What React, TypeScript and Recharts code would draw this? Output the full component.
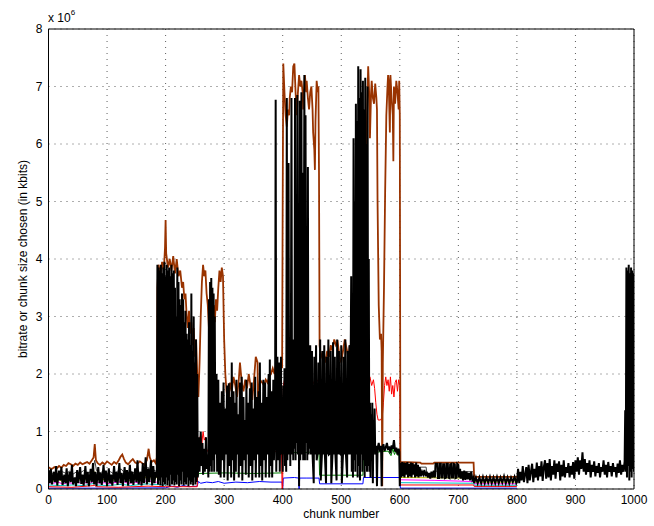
import { LineChart, Line, XAxis, YAxis, CartesianGrid } from 'recharts'

type Pt = [number, number | null]

const FONT = '"Liberation Sans", Arial, Helvetica, sans-serif'

const X_TICKS = [0, 100, 200, 300, 400, 500, 600, 700, 800, 900, 1000]
const Y_TICKS = [0, 1, 2, 3, 4, 5, 6, 7, 8]

// values in units of 10^6 kbits, keyed by chunk number
const grey: Pt[] = [
  [0, 0.3], [6, 0.26], [12, 0.29], [18, 0.25], [24, 0.3], [30, 0.27], [36, 0.31], [42, 0.26], [48, 0.3],
  [54, 0.28], [60, 0.32], [66, 0.27], [72, 0.3], [76, 0.34], [79, 0.5], [82, 0.32], [88, 0.28], [94, 0.31],
  [100, 0.27], [106, 0.3], [112, 0.26], [118, 0.31], [124, 0.35], [128, 0.3], [134, 0.27], [140, 0.31],
  [146, 0.28], [152, 0.3], [158, 0.26], [164, 0.31], [170, 0.38], [174, 0.3], [180, 0.33], [185, 0.3],
  [186, null],
  [601, 0.38], [645, 0.38], [646, 0.27], [660, 0.27], [661, 0.31], [726, 0.3], [727, 0.16], [800, 0.16],
]

const yellow: Pt[] = [
  [0, 0.16], [8, 0.14], [16, 0.17], [24, 0.13], [32, 0.16], [40, 0.14], [48, 0.18], [56, 0.15], [64, 0.17],
  [72, 0.16], [77, 0.2], [79, 0.3], [81, 0.18], [88, 0.15], [96, 0.17], [104, 0.14], [112, 0.16], [120, 0.18],
  [126, 0.22], [132, 0.16], [140, 0.14], [148, 0.17], [156, 0.15], [164, 0.18], [170, 0.26], [174, 0.2],
  [180, 0.17], [185, 0.2], [186, null],
  [601, 0.2], [726, 0.19], [727, 0.12], [800, 0.12],
]

const magenta: Pt[] = [
  [0, 0.11], [8, 0.1], [16, 0.12], [24, 0.09], [32, 0.11], [40, 0.1], [48, 0.12], [56, 0.1], [64, 0.11],
  [72, 0.1], [77, 0.14], [79, 0.24], [81, 0.12], [88, 0.1], [96, 0.11], [104, 0.09], [112, 0.11], [120, 0.12],
  [126, 0.15], [132, 0.11], [140, 0.1], [148, 0.12], [156, 0.1], [164, 0.12], [170, 0.18], [174, 0.13],
  [180, 0.11], [185, 0.12], [186, null],
  [601, 0.16], [660, 0.15], [726, 0.13], [727, 0.09], [800, 0.09],
]

const cyan: Pt[] = [
  [0, 0.07], [20, 0.06], [40, 0.07], [60, 0.06], [79, 0.1], [82, 0.07], [100, 0.06], [125, 0.08], [140, 0.06],
  [170, 0.09], [175, 0.08], [185, 0.08], [200, 0.07], [201, null],
  [601, 0.11], [726, 0.1], [727, 0.065], [800, 0.065],
]

const blue: Pt[] = [
  [0, 0.015], [100, 0.015], [200, 0.02], [210, 0.05], [220, 0.03], [230, 0.06], [240, 0.04], [254, 0.05],
  [256, 0.13], [260, 0.1], [270, 0.12], [280, 0.11], [290, 0.13], [300, 0.1], [320, 0.12], [340, 0.11],
  [360, 0.13], [380, 0.12], [399, 0.12], [400, 0], [401, 0.19], [420, 0.2], [427, 0.19], [428, 0],
  [429, 0.19], [440, 0.19], [462, 0.19], [463, 0.09], [537, 0.09], [538, 0.2], [600, 0.2], [601, 0.015],
  [800, 0.015],
]

const green: Pt[] = [
  [255, 0.22], [257, 0.27], [300, 0.28], [350, 0.27], [399, 0.28], [400, 0.64], [430, 0.63], [462, 0.65],
  [463, 0.24], [537, 0.24], [538, 0.65], [560, 0.64], [580, 0.66], [585, 0.58], [588, 0.7], [591, 0.6],
  [594, 0.68], [597, 0.58], [600, 0.64], [601, null],
]

const red: Pt[] = [
  [0, 0.04], [40, 0.03], [79, 0.06], [82, 0.04], [120, 0.03], [170, 0.05], [200, 0.04], [254, 0.04],
  [256, 0.6], [258, 0.85], [260, 0.95], [262, 0.8], [264, 1.0], [266, 0.85], [268, 0.9], [270, 0.7],
  [272, 0.65], [300, 0.66], [330, 0.64], [360, 0.66], [398, 0.65], [399, 0], [400, 0.05], [401, 1.8],
  [404, 1.95], [408, 1.85], [412, 1.95], [416, 1.8], [420, 1.9], [425, 1.95], [430, 1.85], [435, 1.9],
  [440, 1.95], [445, 1.85], [450, 1.9], [455, 1.8], [460, 1.9], [462, 1.9], [463, 0.7], [500, 0.7],
  [537, 0.7], [540, 1.0], [543, 1.6], [546, 1.9], [549, 1.95], [552, 1.8], [555, 1.9], [557, 1.75],
  [559, 1.5], [561, 1.3], [563, 1.2], [567, 1.2], [570, 1.25], [572, 1.5], [574, 1.8], [576, 1.95],
  [578, 1.8], [580, 1.9], [582, 1.7], [584, 1.95], [586, 1.65], [588, 1.8], [590, 1.6], [592, 1.85],
  [594, 1.9], [596, 1.7], [598, 1.9], [600, 1.8], [601, 0.07], [726, 0.07], [727, 0.045], [800, 0.045],
]

const brown: Pt[] = [
  [0, 0.38], [3, 0.36], [6, 0.35], [10, 0.38], [14, 0.36], [18, 0.4], [22, 0.37], [26, 0.42], [30, 0.4],
  [34, 0.45], [38, 0.43], [42, 0.4], [46, 0.44], [50, 0.42], [54, 0.46], [58, 0.43], [62, 0.45], [66, 0.47],
  [70, 0.44], [74, 0.5], [77, 0.55], [79, 0.78], [81, 0.5], [84, 0.45], [88, 0.42], [92, 0.46], [96, 0.43],
  [100, 0.48], [104, 0.45], [108, 0.42], [112, 0.47], [116, 0.44], [120, 0.5], [123, 0.56], [126, 0.6],
  [129, 0.52], [132, 0.46], [136, 0.43], [140, 0.48], [144, 0.52], [148, 0.46], [152, 0.44], [156, 0.48],
  [160, 0.45], [164, 0.42], [168, 0.5], [171, 0.7], [173, 0.55], [176, 0.47], [180, 0.5], [183, 0.45],
  [185, 0.55], [186, 3.5], [188, 3.9], [191, 3.7], [194, 3.95], [197, 3.8], [199, 4.2], [200, 4.68],
  [201, 4.1], [204, 3.85], [207, 4.0], [210, 3.8], [213, 4.05], [216, 3.75], [219, 4.0], [222, 3.7],
  [225, 3.8], [228, 3.5], [230, 3.6], [232, 3.3], [234, 3.4], [236, 3.0], [238, 2.8], [240, 3.1],
  [242, 2.7], [244, 2.9], [246, 2.5], [248, 2.8], [250, 2.3], [252, 2.6], [254, 2.0], [256, 1.6],
  [258, 2.2], [260, 3.0], [262, 3.6], [264, 3.9], [266, 3.7], [268, 3.8], [270, 3.4], [272, 3.2],
  [274, 2.8], [276, 3.1], [278, 3.3], [280, 3.0], [282, 3.2], [284, 2.9], [286, 3.3], [288, 3.1],
  [290, 3.5], [292, 3.8], [294, 3.6], [296, 3.85], [298, 3.7], [300, 2.6], [302, 2.0], [304, 1.7],
  [307, 1.5], [310, 1.85], [313, 1.7], [316, 1.95], [319, 1.8], [322, 1.6], [325, 1.9], [327, 2.2],
  [330, 1.85], [333, 1.7], [336, 1.9], [339, 1.75], [342, 2.0], [345, 1.8], [348, 1.55], [351, 1.9],
  [354, 2.3], [357, 2.2], [358, 1.4], [361, 1.9], [365, 1.85], [368, 1.8], [371, 1.9], [374, 1.85],
  [377, 1.95], [380, 2.0], [383, 2.1], [386, 2.0], [389, 2.2], [392, 2.1], [395, 2.0], [398, 2.2],
  [399, 2.1], [400, 5.0], [401, 7.4], [403, 6.9], [405, 6.5], [407, 6.3], [409, 6.6], [411, 6.5],
  [412, 6.8], [414, 7.0], [416, 6.9], [418, 7.35], [420, 7.4], [422, 6.9], [424, 6.5], [426, 6.9],
  [428, 7.2], [430, 7.0], [432, 7.1], [434, 6.9], [435, 6.6], [437, 7.0], [438, 7.2], [440, 6.9],
  [441, 7.1], [443, 6.8], [445, 6.6], [447, 6.9], [449, 7.0], [451, 6.6], [452, 6.2], [454, 5.9],
  [455, 5.55], [456, 6.4], [458, 7.1], [460, 6.9], [461, 7.0], [462, 5.5], [463, 2.5], [464, 2.4],
  [467, 2.3], [470, 2.35], [473, 2.2], [476, 2.4], [479, 2.3], [482, 2.5], [485, 2.4], [488, 2.6],
  [491, 2.5], [494, 2.55], [497, 2.3], [500, 2.2], [503, 2.4], [506, 2.6], [509, 2.45], [512, 2.3],
  [515, 2.5], [518, 2.4], [521, 2.6], [524, 2.5], [527, 2.7], [530, 2.6], [533, 2.8], [536, 3.0],
  [539, 3.5], [542, 5.0], [544, 6.5], [546, 7.35], [548, 6.8], [549, 6.1], [551, 6.9], [552, 7.1],
  [554, 6.8], [556, 6.7], [558, 7.05], [560, 6.8], [561, 6.6], [562, 5.0], [564, 3.2], [566, 2.6],
  [568, 2.7], [569, 2.4], [570, 0.05], [571, 2.2], [573, 3.5], [575, 5.2], [577, 6.5], [579, 7.0],
  [580, 7.2], [581, 7.1], [583, 6.2], [584, 7.2], [586, 6.8], [588, 6.5], [589, 5.7], [590, 7.0],
  [592, 6.7], [594, 7.1], [596, 6.9], [598, 6.6], [599, 7.1], [600, 6.5], [601, 0.47], [635, 0.46],
  [637, 0.44], [657, 0.44], [659, 0.46], [726, 0.46], [727, 0.21], [800, 0.21],
]

const black: Pt[] = [
  // low steady phase
  [0, 0.33], [2, 0.1], [4, 0.35], [6, 0.08], [9, 0.3], [11, 0.12], [13, 0.4], [15, 0.06], [18, 0.32],
  [20, 0.15], [22, 0.38], [24, 0.07], [27, 0.25], [29, 0.1], [31, 0.36], [33, 0.05], [36, 0.3], [38, 0.12],
  [40, 0.42], [42, 0.08], [45, 0.2], [47, 0.05], [49, 0.33], [51, 0.1], [54, 0.38], [56, 0.09], [58, 0.25],
  [60, 0.06], [63, 0.4], [65, 0.1], [67, 0.3], [69, 0.05], [72, 0.35], [74, 0.12], [76, 0.45], [78, 0.08],
  [80, 0.3], [82, 0.05], [85, 0.38], [87, 0.1], [89, 0.28], [91, 0.07], [94, 0.42], [96, 0.12], [98, 0.32],
  [100, 0.05], [103, 0.36], [105, 0.1], [107, 0.25], [109, 0.06], [112, 0.4], [114, 0.12], [116, 0.3],
  [118, 0.07], [121, 0.45], [123, 0.1], [125, 0.28], [127, 0.05], [130, 0.38], [132, 0.12], [134, 0.33],
  [136, 0.06], [139, 0.42], [141, 0.1], [143, 0.3], [145, 0.07], [148, 0.36], [150, 0.12], [152, 0.5],
  [154, 0.08], [157, 0.3], [159, 0.06], [161, 0.45], [163, 0.1], [166, 0.55], [168, 0.08], [170, 0.35],
  [172, 0.12], [175, 0.5], [177, 0.06], [179, 0.4], [181, 0.1], [183, 0.3],
  // first burst
  [185, 0.2], [186, 3.9], [187, 0.08], [188, 3.85], [189, 0.15], [190, 3.8], [191, 0.06], [192, 3.9],
  [193, 0.2], [194, 3.75], [195, 0.05], [196, 3.85], [197, 0.12], [198, 3.95], [199, 0.08], [200, 3.7],
  [201, 0.2], [202, 3.9], [203, 0.06], [204, 3.8], [205, 0.15], [206, 3.85], [207, 0.05], [208, 3.7],
  [209, 0.25], [210, 3.9], [211, 0.08], [212, 3.75], [213, 0.15], [214, 3.8], [215, 0.06], [216, 3.5],
  [217, 0.12], [218, 3.0], [219, 0.08], [220, 3.85], [221, 0.25], [222, 3.6], [223, 0.05], [224, 3.3],
  [225, 0.15], [226, 3.2], [227, 0.08], [228, 3.4], [229, 0.3], [230, 3.3], [231, 0.06], [232, 2.9],
  [233, 0.12], [234, 3.1], [235, 0.08], [236, 2.7], [237, 0.2], [238, 2.6], [239, 0.05], [240, 2.9],
  [241, 0.15], [242, 2.5], [243, 0.08], [244, 3.4], [245, 0.12], [246, 2.4], [247, 0.06], [248, 3.0],
  [249, 0.2], [250, 2.2], [251, 0.08], [252, 2.6], [253, 0.12], [254, 2.0], [255, 0.2],
  // middle phase
  [256, 0.5], [257, 0.9], [258, 0.3], [260, 1.0], [261, 0.4], [263, 0.8], [264, 0.25], [266, 0.7],
  [267, 0.3], [269, 0.9], [270, 0.35], [272, 0.6], [273, 0.2], [274, 3.3], [275, 0.3], [276, 3.6],
  [277, 0.4], [278, 3.67], [279, 0.3], [280, 3.5], [281, 0.5], [282, 3.4], [283, 0.3], [284, 3.0],
  [285, 0.6], [287, 2.0], [288, 0.3], [290, 1.9], [291, 0.25], [293, 1.5], [294, 0.2], [296, 1.7],
  [297, 0.5], [299, 1.85], [300, 0.2], [302, 1.4], [303, 0.6], [305, 1.8], [306, 0.15], [308, 1.84],
  [309, 0.4], [311, 1.6], [312, 0.2], [313, 2.2], [314, 0.5], [316, 1.7], [317, 0.15], [319, 1.5],
  [320, 0.3], [321, 1.9], [322, 0.6], [324, 1.3], [325, 0.2], [327, 1.85], [328, 0.4], [330, 1.95],
  [331, 0.15], [333, 1.6], [334, 0.5], [336, 1.2], [337, 0.25], [338, 1.9], [339, 0.6], [341, 1.5],
  [342, 0.2], [344, 1.75], [345, 0.4], [347, 1.85], [348, 0.15], [350, 1.4], [351, 0.5], [353, 1.95],
  [354, 0.2], [356, 1.6], [357, 0.6], [359, 1.7], [360, 0.2], [361, 2.2], [362, 0.4], [364, 1.5],
  [365, 0.15], [367, 1.9], [368, 0.5], [370, 1.85], [371, 0.2], [373, 1.6], [374, 0.6], [376, 2.0],
  [377, 0.2], [378, 2.25], [379, 0.4], [381, 1.7], [382, 0.2], [384, 1.9], [385, 0.5], [387, 1.2],
  [388, 6.77], [389, 0.3], [391, 2.3], [392, 0.5], [394, 2.2], [395, 0.3], [397, 2.3], [398, 0.6],
  [399, 1.0], [400, 0.3],
  // second burst
  [401, 1.8], [402, 0.6], [403, 2.1], [404, 0.4], [405, 1.5], [406, 0.3], [407, 6.8], [408, 0.5],
  [409, 2.3], [410, 5.67], [411, 0.6], [412, 2.0], [413, 0.4], [414, 2.4], [415, 6.8], [416, 0.6],
  [417, 2.5], [418, 0.5], [419, 2.6], [420, 0.7], [421, 6.8], [422, 0.5], [423, 2.8], [424, 0.8],
  [425, 6.85], [426, 0.6], [427, 3.2], [428, 0.05], [429, 6.75], [430, 0.5], [431, 4.0], [432, 6.9],
  [433, 0.6], [434, 5.5], [435, 0.5], [436, 3.0], [437, 7.2], [438, 0.5], [439, 6.5], [440, 0.8],
  [441, 2.7], [442, 0.5], [443, 5.6], [444, 0.6], [445, 2.4], [446, 0.7], [447, 2.5], [448, 0.6],
  [450, 2.4], [451, 0.6], [453, 0.1], [454, 2.3], [455, 0.6], [457, 2.5], [458, 0.5], [460, 0.65],
  [461, 2.2], [462, 0.6], [464, 2.6], [465, 0.15], [467, 0.6], [468, 2.4], [469, 0.6], [471, 2.5],
  [472, 0.6], [474, 0.1], [475, 2.3], [476, 0.6], [478, 2.6], [479, 0.6], [481, 0.62], [482, 2.4],
  [483, 0.1], [485, 0.6], [486, 2.55], [487, 0.6], [489, 2.3], [490, 0.6], [492, 0.15], [493, 2.6],
  [494, 0.6], [496, 2.4], [497, 0.62], [499, 0.6], [500, 2.5], [501, 0.1], [503, 0.6], [504, 2.3],
  [505, 0.6], [507, 2.6], [508, 0.6], [510, 0.2], [511, 2.4], [512, 0.6], [514, 2.5], [515, 0.6],
  // third burst
  [517, 3.7], [518, 0.3], [519, 3.2], [520, 0.2], [521, 6.1], [522, 0.5], [523, 5.0], [524, 0.3],
  [525, 6.7], [526, 0.6], [527, 6.4], [528, 0.2], [529, 7.35], [530, 0.4], [531, 6.8], [532, 0.15],
  [533, 7.3], [534, 0.6], [535, 6.9], [536, 0.3], [537, 7.1], [538, 0.5], [539, 6.6], [540, 0.2],
  [541, 7.15], [542, 0.4], [543, 6.0], [544, 0.3], [545, 7.0], [546, 0.4], [547, 4.0], [548, 0.3],
  [549, 1.5], [550, 0.2], [551, 1.3], [552, 0.6], [553, 1.5], [554, 0.1], [555, 1.2], [556, 0.7],
  [557, 1.4], [558, 0.6], [560, 0.75], [561, 0.05], [562, 0.7], [564, 0.8], [566, 0.65], [568, 0.75],
  [569, 0.05], [570, 0.7], [572, 0.78], [574, 0.66], [576, 0.72], [578, 0.8], [580, 0.68], [582, 0.74],
  [584, 0.62], [586, 0.76], [588, 0.7], [590, 0.85], [592, 0.65], [594, 0.72], [596, 0.6], [598, 0.7],
  [599, 0.65], [600, 0.05],
  // tail
  [601, 0.45], [602, 0.2], [604, 0.47], [605, 0.22], [607, 0.46], [608, 0.2], [610, 0.45], [611, 0.25],
  [613, 0.47], [614, 0.2], [616, 0.44], [617, 0.22], [619, 0.46], [620, 0.2], [622, 0.45], [623, 0.25],
  [625, 0.43], [626, 0.2], [628, 0.46], [629, 0.22], [631, 0.42], [632, 0.2], [634, 0.38], [636, 0.22],
  [638, 0.3], [640, 0.25], [642, 0.33], [644, 0.22], [646, 0.3], [648, 0.2], [650, 0.28], [652, 0.18],
  [654, 0.3], [656, 0.2], [658, 0.32], [660, 0.2], [661, 0.44], [664, 0.44], [665, 0.19], [667, 0.19],
  [668, 0.44], [670, 0.44], [671, 0.2], [673, 0.2], [674, 0.43], [676, 0.43], [677, 0.19], [679, 0.2],
  [680, 0.44], [682, 0.44], [683, 0.2], [685, 0.19], [686, 0.43], [688, 0.44], [689, 0.2], [691, 0.2],
  [692, 0.44], [694, 0.43], [695, 0.19], [697, 0.2], [698, 0.44], [700, 0.42], [701, 0.2], [703, 0.35],
  [704, 0.18], [706, 0.3], [708, 0.15], [710, 0.32], [712, 0.16], [714, 0.3], [716, 0.17], [718, 0.28],
  [720, 0.15], [722, 0.3], [724, 0.16], [726, 0.2], [727, 0.1], [730, 0.2], [733, 0.1], [736, 0.2],
  [739, 0.1], [742, 0.21], [745, 0.1], [748, 0.2], [751, 0.11], [754, 0.21], [757, 0.1], [760, 0.2],
  [763, 0.1], [766, 0.21], [769, 0.1], [772, 0.2], [775, 0.11], [778, 0.22], [781, 0.1], [784, 0.2],
  [787, 0.1], [790, 0.2], [793, 0.12], [796, 0.21], [799, 0.1], [800, 0.12], [802, 0.35], [804, 0.1],
  [806, 0.3], [808, 0.15], [810, 0.4], [812, 0.12], [814, 0.25], [816, 0.38], [818, 0.1], [820, 0.42],
  [822, 0.15], [824, 0.3], [826, 0.44], [828, 0.12], [830, 0.35], [832, 0.2], [834, 0.46], [836, 0.15],
  [838, 0.4], [840, 0.22], [842, 0.48], [844, 0.14], [846, 0.38], [848, 0.5], [850, 0.18], [852, 0.45],
  [854, 0.2], [856, 0.52], [858, 0.15], [860, 0.4], [862, 0.25], [864, 0.5], [866, 0.18], [868, 0.44],
  [870, 0.3], [872, 0.48], [874, 0.15], [876, 0.42], [878, 0.22], [880, 0.5], [882, 0.2], [884, 0.38],
  [886, 0.28], [888, 0.45], [890, 0.2], [892, 0.4], [894, 0.25], [896, 0.47], [898, 0.18], [900, 0.5],
  [902, 0.3], [904, 0.55], [906, 0.25], [908, 0.5], [910, 0.35], [912, 0.64], [914, 0.3], [916, 0.52],
  [918, 0.25], [920, 0.45], [922, 0.3], [924, 0.5], [926, 0.2], [928, 0.42], [930, 0.3], [932, 0.48],
  [934, 0.22], [936, 0.4], [938, 0.28], [940, 0.45], [942, 0.2], [944, 0.38], [946, 0.3], [948, 0.5],
  [950, 0.25], [952, 0.42], [954, 0.2], [956, 0.47], [958, 0.3], [960, 0.4], [962, 0.22], [964, 0.45],
  [966, 0.3], [968, 0.38], [970, 0.2], [972, 0.44], [974, 0.28], [976, 0.5], [978, 0.25], [980, 0.42],
  [982, 0.3], [984, 0.48], [985, 1.37], [986, 0.3], [987, 3.85], [988, 0.2], [989, 3.8], [990, 0.4],
  [991, 3.9], [992, 0.15], [993, 3.75], [994, 0.3], [995, 3.85], [996, 0.2], [997, 3.8], [998, 0.35],
  [999, 3.75], [1000, 0.3],
]

const SERIES: { name: string; pts: Pt[]; color: string; width: number }[] = [
  { name: 'grey', pts: grey, color: '#404040', width: 1 },
  { name: 'yellow', pts: yellow, color: '#bfbf00', width: 1 },
  { name: 'magenta', pts: magenta, color: '#ff00ff', width: 1 },
  { name: 'cyan', pts: cyan, color: '#00bfbf', width: 1 },
  { name: 'blue', pts: blue, color: '#0000ff', width: 1 },
  { name: 'green', pts: green, color: '#008000', width: 1 },
  { name: 'red', pts: red, color: '#ff0000', width: 1 },
  { name: 'brown', pts: brown, color: '#993300', width: 1.8 },
  { name: 'black', pts: black, color: '#000000', width: 2 },
]

const toRows = (pts: Pt[]) => pts.map(([x, y]) => ({ x, y }))

const tickStyle = { fill: '#000', fontSize: 12, fontFamily: FONT }

export default function App() {
  return (
    <div style={{ position: 'absolute', left: 0, top: 0, width: 654, height: 526, background: '#fff' }}>
      <LineChart width={654} height={526} margin={{ top: 29, right: 20, bottom: 0, left: 0 }}>
        <CartesianGrid xAxisId="main" yAxisId="main" stroke="#333" strokeWidth={0.8} strokeDasharray="1 5" />
        <XAxis
          xAxisId="main"
          dataKey="x"
          type="number"
          domain={[0, 1000]}
          ticks={X_TICKS}
          allowDataOverflow
          height={37}
          axisLine={{ stroke: '#000' }}
          tickLine={false}
          tickSize={4}
          tickMargin={2}
          tick={tickStyle}
          label={{ value: 'chunk number', position: 'insideBottom', offset: 8, style: { fill: '#000', fontSize: 12, fontFamily: FONT } }}
        />
        <XAxis xAxisId="btm" dataKey="x" type="number" domain={[0, 1000]} ticks={X_TICKS} allowDataOverflow
          orientation="bottom" mirror axisLine={false} tickLine={{ stroke: '#000' }} tickSize={5} tick={false} />
        <XAxis xAxisId="top" dataKey="x" type="number" domain={[0, 1000]} ticks={X_TICKS} allowDataOverflow
          orientation="top" mirror axisLine={{ stroke: '#000' }} tickLine={{ stroke: '#000' }} tickSize={5} tick={false} />
        <YAxis
          yAxisId="main"
          type="number"
          domain={[0, 8]}
          ticks={Y_TICKS}
          allowDataOverflow
          width={48.5}
          axisLine={{ stroke: '#000' }}
          tickLine={false}
          tickSize={4}
          tickMargin={2}
          tick={tickStyle}
          label={{
            value: 'bitrate or chunk size chosen (in kbits)',
            angle: -90,
            position: 'center',
            dx: -2,
            style: { fill: '#000', fontSize: 12, fontFamily: FONT },
          }}
        />
        <YAxis yAxisId="lft" type="number" domain={[0, 8]} ticks={Y_TICKS} allowDataOverflow
          orientation="left" mirror axisLine={false} tickLine={{ stroke: '#000' }} tickSize={5} tick={false} />
        <YAxis yAxisId="rgt" type="number" domain={[0, 8]} ticks={Y_TICKS} allowDataOverflow
          orientation="right" mirror axisLine={{ stroke: '#000' }} tickLine={{ stroke: '#000' }} tickSize={5} tick={false} />
        {SERIES.map((s) => (
          <Line
            key={s.name}
            xAxisId="main"
            yAxisId="main"
            data={toRows(s.pts)}
            dataKey="y"
            type="linear"
            stroke={s.color}
            strokeWidth={s.width}
            dot={false}
            activeDot={false}
            isAnimationActive={false}
          />
        ))}
      </LineChart>
      <svg width={120} height={30} style={{ position: 'absolute', left: 0, top: 0, pointerEvents: 'none' }}>
        <text x={48} y={22} fontSize={12} fontFamily={FONT} fill="#000">
          x 10<tspan dy={-7} fontSize={8}>6</tspan>
        </text>
      </svg>
    </div>
  )
}
